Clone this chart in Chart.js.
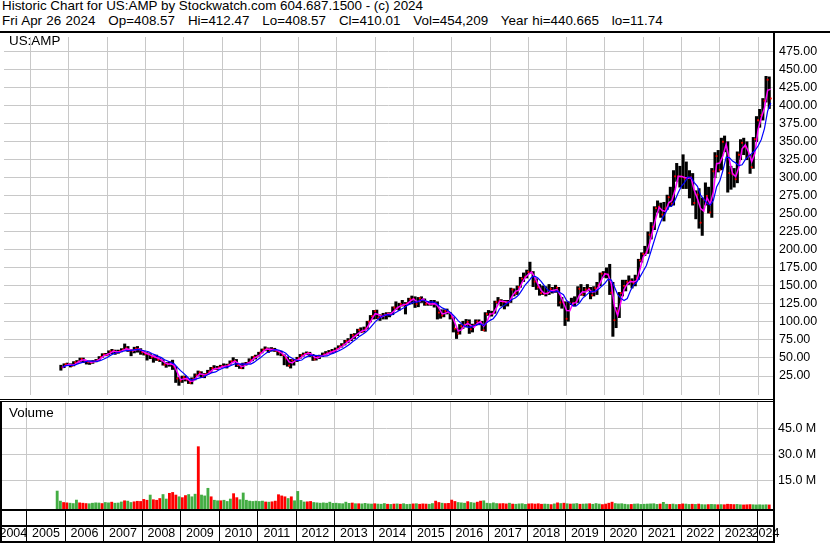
<!DOCTYPE html>
<html>
<head>
<meta charset="utf-8">
<script src="https://cdn.jsdelivr.net/npm/chart.js@4/dist/chart.umd.min.js"></script>
<style>
  body { margin: 0; width: 830px; height: 543px; position: relative; overflow: hidden; background: #fff;
         font-family: "Liberation Sans", Arial, sans-serif; color: #000; }
  .txt { position: absolute; font-size: 13.4px; white-space: pre; }
  .ln { position: absolute; background: #000; }
  canvas { position: absolute; left: 0; }
</style>
</head>
<body>
<div class="txt" style="left:2px; top:-1px; line-height:14.7px;">Historic Chart for US:AMP by Stockwatch.com 604.687.1500 - (c) 2024</div>
<div class="txt" style="left:2px; top:13.7px; line-height:14.7px; word-spacing:0.6px;">Fri Apr 26 2024   Op=408.57   Hi=412.47   Lo=408.57   Cl=410.01   Vol=454,209   Year hi=440.665   lo=11.74</div>

<canvas id="priceChart" width="830" height="366" style="top:33px"></canvas>
<canvas id="volChart" width="830" height="141" style="top:402px"></canvas>

<div class="txt" style="left:9px; top:34px; line-height:14px;">US:AMP</div>
<div class="txt" style="left:9px; top:406px; line-height:14px;">Volume</div>

<!-- panel borders -->
<div class="ln" style="left:0; top:31px; width:830px; height:2px;"></div>
<div class="ln" style="left:0; top:399px; width:773px; height:1px;"></div>
<div class="ln" style="left:0; top:401px; width:773px; height:1px;"></div>
<div class="ln" style="left:0; top:401px; width:2px; height:142px;"></div>
<div class="ln" style="left:0; top:509px; width:775px; height:2px;"></div>
<div class="ln" style="left:0; top:525px; width:775px; height:2px;"></div>
<div class="ln" style="left:0; top:541px; width:775px; height:2px;"></div>
<div class="ln" style="left:773px; top:31px; width:2px; height:512px;"></div>

<script>
// monthly bars, first one is Oct 2005
var startYear = 2005, startMonth = 10;

var closes = [
  37, 41.5, 41,
  39, 44, 45, 48.8, 46, 44.7, 43.6, 45.5, 47, 51.5, 55, 54.5,
  59, 60, 57, 59.5, 61.5, 63.6, 60, 60, 63, 62, 58, 55.5,
  55, 51, 51.8, 47.5, 47, 40.7, 42, 42, 38, 21.6, 18.5, 23.4,
  20, 15.5, 20.5, 26, 30, 24.3, 27.6, 31, 36, 34.8, 37, 38.8,
  38.3, 40.5, 45.4, 46, 40, 36, 42, 43, 47, 51.7, 52, 57.5,
  61.6, 63, 61, 62, 60, 57.7, 54, 49.5, 39.4, 46.7, 46.5, 49.6,
  53.7, 55.8, 57, 54, 48, 52, 53, 55, 56.7, 58.6, 60, 62.6,
  66, 68.5, 73.6, 74.5, 81.5, 81, 89, 86.5, 91, 100.5, 108, 115,
  105.6, 108.6, 110, 111.6, 111, 120, 119.6, 125, 123.4, 126, 131.6, 132,
  124.6, 133, 131, 125, 124.6, 125, 125.8, 113, 109, 115, 113.6, 106.4,
  90.7, 84, 94, 96, 100, 89.8, 95.6, 100.6, 99.8, 88.5, 111, 111,
  112, 127.5, 129.7, 127.9, 127.4, 127.3, 144.9, 139.9, 148.5, 160, 162.7, 169.5,
  168.7, 156, 148, 140, 139, 140, 146, 142, 147.7, 127, 127, 104.4,
  126.6, 125.6, 128, 146, 138, 145, 146, 137, 147, 150.9, 167, 166.6,
  165.6, 140.5, 102.5, 114.8, 140, 150, 155.4, 156.8, 154, 160.8, 185.5, 194.3,
  197, 221, 232, 258, 260, 248.9, 257.6, 273, 264, 302, 302, 301.7,
  299, 300, 300.6, 265, 276.6, 237.7, 269.8, 275, 252, 309, 330, 311,
  350, 343, 306.5, 305, 298, 332, 348.5, 342.5, 329.7, 314.6, 353.5, 379.8,
  386.8, 407, 436, 410
];

var highs = [
  40, 42, 43,
  42, 45, 46.5, 50, 50, 46.5, 46, 46.5, 48, 52, 56, 56.5,
  60, 62, 61, 61, 63, 69.5, 66, 61.5, 65, 66, 63, 59,
  57.5, 56, 53, 54, 50, 47.5, 44, 45, 47, 38, 23, 25,
  25, 21, 22.5, 28, 32, 31, 28.5, 33, 37, 39.5, 38.5, 40,
  42, 41.5, 46, 50.5, 48, 41.5, 43, 44, 49, 52, 54, 58,
  62.5, 65.5, 64, 64.5, 63.5, 60.5, 59.5, 54.5, 51.5, 48, 48, 51,
  55, 57, 58.5, 58, 55, 53, 54, 57, 59, 60.5, 62, 64,
  67, 70, 74.5, 77, 83, 84, 90, 92, 93, 101, 109, 116,
  116.5, 110, 112, 113, 113, 121, 128, 126, 130, 127, 133, 136,
  135, 134, 135, 132, 128, 130, 130, 128, 117, 117, 118, 113,
  106, 91, 96.5, 101, 103.5, 103, 97, 103, 103, 101, 113, 116,
  115, 129, 134, 131, 130, 130, 147, 146, 150, 162, 168, 172,
  183, 170, 160, 152, 150, 149, 152, 148, 151, 148, 134, 128,
  128, 133, 135, 149, 152, 148, 152, 148, 149, 155, 168, 170,
  175, 180, 155, 120, 141, 158, 158, 164, 160, 165, 187, 196,
  205, 225, 238, 260, 268, 265, 266, 276, 287, 310, 320, 316,
  332, 322, 310, 306, 282, 285, 272, 293, 287, 313, 335, 338,
  355, 358, 350, 316, 313, 336, 353, 355, 350, 332, 356, 385,
  395, 410, 440.7, 440
];

var lows = [
  33, 36.5, 39.5,
  37.5, 39, 43, 44.5, 43.5, 41.5, 41, 42.5, 44.5, 46.5, 51, 53,
  54, 56, 55, 56.5, 58.5, 61, 59, 53, 57, 58, 55, 54,
  47, 49, 44, 46.5, 45, 40, 37, 38.5, 34, 16, 12, 16,
  18, 14.5, 14, 19.5, 25, 23, 22.5, 27, 30, 34, 34, 36.5,
  37.5, 36, 40.5, 44.5, 38, 35.5, 35, 40, 43, 46, 48.5, 52.5,
  57, 60, 57.5, 59.5, 59, 54, 53, 40.5, 38.5, 36, 40, 45,
  49.5, 52.5, 54.5, 52, 46.5, 47, 49, 52, 54, 56, 56.5, 59,
  62.5, 65, 68, 71, 74, 77, 81, 85, 86, 90, 100, 104,
  104.5, 102, 104, 104, 107, 110, 117, 116, 122, 111, 124, 125,
  120, 121, 127, 123, 123, 123, 120.5, 104, 105, 107, 111, 104,
  86, 77, 83, 91, 93, 84, 86, 95, 96, 88, 87, 109,
  108, 112, 125, 122, 118, 122, 127, 136, 138, 148, 156, 161,
  168, 149, 145, 137, 138, 136, 138, 140, 141, 122, 119, 95,
  101, 124, 122, 127, 137, 136, 143, 132, 136, 138, 150, 162,
  161, 138, 80, 92, 106, 136, 143, 152, 147, 150, 159, 183,
  192, 195, 215, 228, 252, 245, 240, 256, 260, 262, 295, 287,
  285, 285, 272, 262, 243, 230, 220, 262, 251, 245, 300, 308,
  311, 336, 280, 284, 287, 293, 325, 332, 325, 306, 313, 350,
  370, 380, 405, 396
];

// short moving average (magenta)
var maShort = [
  37, 39.3, 41.3,
  40, 41.5, 44.5, 46.9, 47.4, 45.4, 44.2, 44.6, 46.3, 49.3, 53.3, 54.8,
  56.8, 59.5, 58.5, 58.3, 60.5, 62.6, 61.8, 60, 61.5, 62.5, 60, 56.8,
  55.3, 53, 51.4, 49.7, 47.3, 43.9, 41.4, 42, 40, 29.8, 20, 21,
  21.7, 17.8, 18, 23.3, 28, 27.2, 26, 29.3, 33.5, 35.4, 35.9, 37.9,
  38.6, 39.4, 43, 45.7, 43, 38, 39, 42.5, 45, 49.4, 51.9, 54.8,
  59.6, 62.3, 62, 61.5, 61, 58.9, 55.9, 51.8, 44.5, 43, 46.6, 48,
  51.7, 54.8, 56.4, 55.5, 51, 50, 52.5, 54, 55.9, 57.7, 59.3, 61.3,
  64.3, 67.3, 71, 74, 78, 81.3, 85, 87.8, 88.8, 95.8, 104.3, 111.5,
  110.3, 107.1, 109.3, 110.8, 111.3, 115.5, 119.8, 122.3, 124.2, 124.7, 128.8, 131.8,
  128.3, 128.8, 132, 128, 124.8, 124.8, 125.4, 119.4, 111, 112, 114.3, 110,
  98.5, 87.4, 89, 95, 98, 94.9, 92.7, 98.1, 100.2, 94.1, 99.8, 111,
  111.5, 119.8, 128.6, 128.8, 127.6, 127.3, 136.1, 142.4, 144.2, 154.3, 161.4, 166.1,
  169.1, 162.4, 152, 144, 139.5, 139.5, 143, 144, 144.9, 137.4, 127, 115.7,
  115.5, 126.1, 126.8, 137, 142, 141.5, 145.5, 141.5, 142, 149, 159, 166.8,
  166.1, 153, 121.5, 108.7, 127.4, 145, 152.7, 156.1, 155.4, 157.4, 173.2, 189.9,
  195.7, 209, 226.5, 245, 259, 254.5, 253.3, 265.3, 268.5, 283, 302, 301.9,
  300.4, 299.5, 300.3, 282.8, 270.8, 257.2, 253.8, 272.4, 263.5, 280.5, 319.5, 320.5,
  330.5, 346.5, 324.8, 305.8, 301.5, 315, 340.3, 345.5, 336.1, 322.2, 334, 366.7,
  383.3, 396.9, 421.5, 423
];

// long moving average (blue)
var maLong = [
  37, 39.3, 39.8,
  39.6, 40.5, 42.1, 43.6, 44.6, 45.7, 45.6, 45.7, 45.4, 46.5, 48.5, 50.7,
  53.4, 56, 57.1, 58, 59.4, 60.3, 60.3, 60.9, 61.6, 61.7, 60.6, 59.7,
  58.7, 56.3, 54.3, 52.2, 50.5, 47.6, 45.8, 43.8, 41.9, 36.9, 32.4, 28.7,
  24.3, 19.8, 19.6, 21.1, 22.4, 23.3, 25.7, 27.8, 29.8, 30.7, 33.3, 35.5,
  37, 37.9, 40, 41.8, 42, 41.6, 41.9, 41.4, 41.6, 43.9, 47.1, 50.2,
  54, 57.2, 59, 61, 61.5, 60.7, 58.9, 56.6, 52.1, 49.5, 47.2, 46.3,
  47.2, 50.5, 52.5, 54, 53.7, 53.4, 52.8, 52.4, 52.9, 55.1, 56.7, 58.6,
  60.8, 63.1, 66.1, 69, 72.8, 75.8, 79.9, 82.5, 85.8, 89.6, 95, 100.2,
  104, 107.5, 109.4, 110.2, 109.4, 112.2, 114.4, 117.4, 119.8, 122.8, 125.1, 127.6,
  127.5, 129.4, 130.4, 129.1, 127.6, 127.7, 126.3, 122.7, 119.5, 117.6, 115.3, 111.4,
  106.9, 101.9, 97.7, 94.2, 92.9, 92.8, 95.1, 96.4, 97.2, 94.9, 99.1, 102.2,
  104.5, 110, 118.2, 121.6, 124.9, 128, 131.4, 133.5, 137.6, 144.1, 151.2, 156.1,
  161.9, 163.4, 161, 156.4, 150.3, 144.6, 142.6, 141.4, 142.9, 140.5, 137.9, 129.6,
  126.5, 122.1, 122.3, 126.1, 132.8, 136.5, 140.6, 142.4, 142.6, 145.2, 149.6, 153.7,
  159.4, 158.1, 148.4, 138, 132.7, 129.6, 132.5, 143.4, 151.2, 155.4, 162.5, 170.3,
  178.3, 191.7, 206, 220.5, 233.6, 244, 251.3, 259.5, 260.7, 269.1, 279.7, 288.5,
  293.7, 300.9, 300.7, 293.3, 288.2, 276, 269.9, 264.8, 262.2, 268.7, 287.2, 295.4,
  310.4, 328.6, 328.1, 323.1, 320.5, 316.9, 318, 325.2, 330.1, 333.5, 337.8, 344,
  352.9, 368.3, 392.6, 403.9
];

// volume, millions of shares
var volumes = [
  8.8, 3.0, 2.2,
  2.0, 1.8, 1.6, 3.6, 2.0, 1.8, 1.6, 1.5, 1.8, 2.0, 1.9, 1.6,
  2.2, 2.0, 2.4, 1.8, 1.9, 2.5, 3.2, 3.0, 2.2, 2.6, 2.9, 2.8,
  4.0, 3.5, 6.5, 3.8, 3.5, 4.5, 6.8, 4.2, 7.5, 8.0, 6.5, 5.5,
  5.0, 6.2, 6.8, 5.5, 7.0, 34.4, 6.5, 6.0, 10.4, 5.5, 3.5, 3.2,
  3.2, 3.5, 2.8, 4.2, 7.3, 5.0, 3.8, 7.7, 3.5, 3.0, 2.8, 3.0,
  2.8, 3.0, 2.5, 2.4, 2.6, 3.0, 6.7, 6.0, 5.5, 4.5, 5.5, 3.2,
  8.6, 3.4, 2.5, 2.6, 2.8, 2.2, 2.0, 1.8, 2.0, 1.8, 2.4, 1.7,
  1.8, 1.6, 1.5, 2.4, 1.7, 1.9, 1.5, 1.5, 1.4, 1.7, 1.4, 1.3,
  1.5, 1.3, 1.2, 1.6, 1.2, 1.1, 1.3, 1.4, 1.2, 1.5, 1.1, 1.2,
  1.4, 1.5, 1.2, 1.4, 1.3, 1.2, 1.6, 3.0, 2.2, 1.8, 1.6, 1.7,
  3.6, 2.8, 2.2, 2.0, 1.8, 2.7, 2.2, 1.9, 2.4, 3.0, 3.2, 1.8,
  1.6, 2.0, 1.6, 1.5, 1.6, 1.4, 1.8, 1.3, 1.2, 1.4, 1.5, 1.1,
  1.4, 1.5, 1.3, 1.5, 1.2, 1.3, 1.2, 1.0, 1.4, 2.0, 1.6, 1.8,
  1.5, 1.3, 1.4, 1.6, 1.2, 1.3, 1.4, 1.5, 1.2, 1.6, 1.3, 1.0,
  1.3, 1.8, 2.4, 1.6, 1.4, 1.5, 1.2, 1.0, 1.1, 1.3, 1.4, 1.1,
  1.2, 1.3, 1.4, 1.5, 1.1, 1.3, 2.3, 1.2, 1.1, 1.3, 1.0, 1.1,
  1.4, 1.3, 1.1, 1.2, 1.1, 1.3, 1.0, 0.9, 1.0, 1.1, 1.0, 0.9,
  1.0, 0.9, 1.2, 1.1, 1.0, 1.1, 0.9, 0.8, 0.9, 1.0, 0.9, 0.8,
  0.9, 0.8, 0.9, 0.8
];

var yearLabels = ["2004", "2005", "2006", "2007", "2008", "2009", "2010", "2011", "2012", "2013", "2014",
                  "2015", "2016", "2017", "2018", "2019", "2020", "2021", "2022", "2023", "2024"];
var priceTicks = [25, 50, 75, 100, 125, 150, 175, 200, 225, 250, 275, 300, 325, 350, 375, 400, 425, 450, 475];
var volTicks = [15, 30, 45];

var xMin = 2004.306, xMax = 2024.39;
var gridGrey = "#c8c8c8";
var upGreen = "#43ad43", downRed = "#ff0000";
var fontFam = "'Liberation Sans', Arial, sans-serif";

function monthPos(i, frac) {
  return startYear + (startMonth - 1 + i + frac) / 12;
}

function yearBoundaries(scale) {
  scale.ticks = yearLabels.slice(1).map(function (y) { return { value: +y }; });
}

function noPad(scale) {
  scale.paddingLeft = 0; scale.paddingRight = 0;
  scale.paddingTop = 0; scale.paddingBottom = 0;
}

var hiLo = [], closePts = [], shortPts = [], longPts = [];
for (var i = 0; i < closes.length; i++) {
  hiLo.push({ x: monthPos(i, 0.5), y: [lows[i], highs[i]] });
  closePts.push({ x: monthPos(i, 1), y: closes[i] });
  shortPts.push({ x: monthPos(i, 1), y: maShort[i] });
  longPts.push({ x: monthPos(i, 1), y: maLong[i] });
}

new Chart(document.getElementById("priceChart"), {
  type: "bar",
  data: {
    datasets: [
      { type: "line", data: longPts, borderColor: "#0000ff", borderWidth: 1.2, pointRadius: 0, order: 0 },
      { type: "line", data: shortPts, borderColor: "#ff00ff", borderWidth: 1.5, pointRadius: 0, order: 1 },
      { type: "line", data: closePts, showLine: false, pointStyle: "rect", pointRadius: 1.3,
        pointBackgroundColor: downRed, pointBorderWidth: 0, order: 2 },
      { type: "bar", data: hiLo, backgroundColor: "#000", barThickness: 2.4, grouped: false, order: 3 }
    ]
  },
  options: {
    responsive: false,
    animation: false,
    events: [],
    layout: { padding: 0 },
    plugins: { legend: { display: false }, tooltip: { enabled: false } },
    scales: {
      x: {
        type: "linear", min: xMin, max: xMax, offset: false,
        afterBuildTicks: yearBoundaries,
        ticks: { display: false },
        grid: { color: gridGrey, drawTicks: false, offset: false },
        border: { display: false },
        afterFit: function (s) { s.height = 0; noPad(s); }
      },
      y: {
        position: "right", min: -1.35, max: 495.3,
        afterBuildTicks: function (s) { s.ticks = priceTicks.map(function (v) { return { value: v }; }); },
        ticks: { callback: function (v) { return v.toFixed(2); }, color: "#000", padding: 6,
                 font: { family: fontFam, size: 12.5 } },
        grid: { color: gridGrey, drawTicks: false },
        border: { display: false },
        afterFit: function (s) { s.width = 57; noPad(s); }
      }
    }
  }
});

var volMin = -1.56, volMax = 60.17;
var volPts = [], volCols = [];
for (var j = 0; j < volumes.length; j++) {
  volPts.push({ x: monthPos(j, 0.5), y: volumes[j] });
  volCols.push(j === 0 || closes[j] >= closes[j - 1] ? upGreen : downRed);
}

new Chart(document.getElementById("volChart"), {
  type: "bar",
  data: {
    datasets: [
      { data: volPts, backgroundColor: volCols, barThickness: 2.2, base: volMin, grouped: false }
    ]
  },
  options: {
    responsive: false,
    animation: false,
    events: [],
    layout: { padding: 0 },
    plugins: { legend: { display: false }, tooltip: { enabled: false } },
    scales: {
      x: {
        type: "linear", min: xMin, max: xMax, offset: false,
        afterBuildTicks: yearBoundaries,
        ticks: { display: false },
        grid: { color: gridGrey, drawTicks: true, tickLength: 32, tickColor: "#000", tickWidth: 1, offset: false },
        border: { display: false },
        afterFit: function (s) { s.height = 0; noPad(s); }
      },
      y: {
        position: "right", min: volMin, max: volMax,
        afterBuildTicks: function (s) { s.ticks = volTicks.map(function (v) { return { value: v }; }); },
        ticks: { callback: function (v) { return v.toFixed(1) + " M"; }, color: "#000", padding: 5,
                 font: { family: fontFam, size: 12.5 } },
        grid: { color: gridGrey, drawTicks: false },
        border: { display: false },
        afterFit: function (s) { s.width = 57; noPad(s); }
      },
      xl: {
        axis: "x", type: "linear", position: "bottom", min: xMin, max: xMax, offset: false,
        afterBuildTicks: function (s) {
          s.ticks = yearLabels.map(function (lab) {
            var a = Math.max(+lab, s.min), b = Math.min(+lab + 1, s.max);
            return { value: (a + b) / 2 };
          });
        },
        ticks: { callback: function (v, idx) { return yearLabels[idx]; }, autoSkip: false,
                 maxRotation: 0, minRotation: 0, color: "#000", padding: 17,
                 font: { family: fontFam, size: 12.5 } },
        grid: { display: false, drawTicks: false, offset: false },
        border: { display: false },
        afterFit: function (s) { s.height = 34; noPad(s); }
      }
    }
  }
});
</script>
</body>
</html>
